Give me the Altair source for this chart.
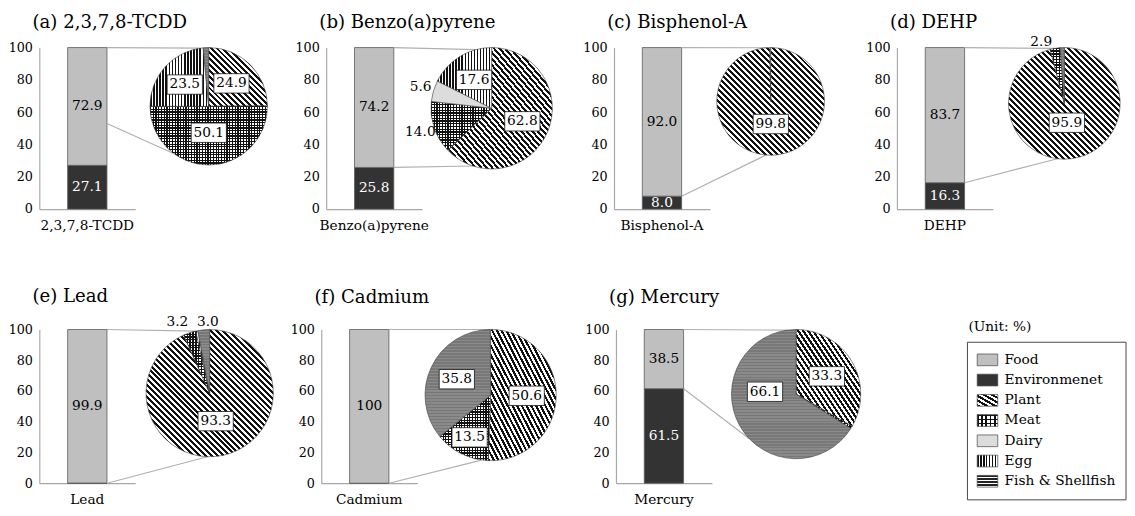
import math
import altair as alt
import pandas as pd

FONT = "DejaVu Serif"

# ---------------- data ----------------
panel_titles = ["(a) 2,3,7,8-TCDD", "(b) Benzo(a)pyrene", "(c) Bisphenol-A", "(d) DEHP",
                "(e) Lead", "(f) Cadmium", "(g) Mercury"]
substances = ["2,3,7,8-TCDD", "Benzo(a)pyrene", "Bisphenol-A", "DEHP", "Lead", "Cadmium", "Mercury"]
food = [72.9, 74.2, 92.0, 83.7, 99.9, 100.0, 38.5]
environment = [27.1, 25.8, 8.0, 16.3, 0.1, 0.0, 61.5]
food_labels = ["72.9", "74.2", "92.0", "83.7", "99.9", "100", "38.5"]
env_labels = ["27.1", "25.8", "8.0", "16.3", "", "", "61.5"]
link_low = [53.0, 25.8, 8.0, 16.3, 0.0, 0.0, 61.5]

food_groups = ["Plant", "Meat", "Dairy", "Egg", "Fish & Shellfish"]
plant = [24.9, 62.8, 99.8, 95.9, 93.3, 50.6, 33.3]
meat = [50.1, 14.0, 0.0, 2.9, 3.2, 13.5, 0.6]
dairy = [0.0, 5.6, 0.0, 0.0, 0.0, 0.0, 0.0]
egg = [23.5, 17.6, 0.2, 0.0, 0.5, 0.0, 0.0]
fish = [1.5, 0.0, 0.0, 1.2, 3.0, 35.8, 66.1]
pie_labels = [
    ["24.9", "50.1", "", "23.5", ""],
    ["62.8", "14.0", "5.6", "17.6", ""],
    ["99.8", "", "", "", ""],
    ["95.9", "2.9", "", "", ""],
    ["93.3", "3.2", "", "", "3.0"],
    ["50.6", "13.5", "", "", "35.8"],
    ["33.3", "", "", "", "66.1"],
]
legend_items = ["Food", "Environmenet", "Plant", "Meat", "Dairy", "Egg", "Fish & Shellfish"]
unit_note = "(Unit: %)"

# ---------------- style / layout ----------------
FOOD_COLOR = "#bfbfbf"
ENV_COLOR = "#333333"
LINK_COLOR = "#b0b0b0"
AXIS_COLOR = "#a8a8a8"
TITLE_SIZE = 18.5
VAL_SIZE = 14
YLAB_SIZE = 13
XLAB_SIZE = 14
LEG_SIZE = 14

PANELS = [
    dict(w=272.5, h=165, cx=173, r=60, up=-8, lo=216, toff=10),
    dict(w=273.5, h=165, cx=169, r=62, up=-15, lo=198, toff=10),
    dict(w=269, h=165, cx=160, r=55, up=-5, lo=185, toff=10),
    dict(w=225, h=165, cx=171, r=57, up=-10, lo=187, toff=3.5),
    dict(w=268, h=157, cx=174, r=65, up=-13, lo=182, toff=10.2),
    dict(w=281, h=157, cx=173, r=67, up=0, lo=188, toff=18),
    dict(w=338, h=157, cx=184, r=66, up=-8, lo=226, toff=18),
]
OUTSIDE = {(1, "Meat"): 1.24, (1, "Dairy"): 1.22, (3, "Meat"): 1.12,
           (4, "Meat"): 1.12, (4, "Fish & Shellfish"): 1.12}
LABEL_RF = {(0, "Meat"): 0.45, (2, "Plant"): 0.42, (3, "Plant"): 0.35, (4, "Plant"): 0.45,
            (5, "Meat"): 0.72, (5, "Fish & Shellfish"): 0.57}
NUDGE = {(3, "Meat"): (-13, 0), (4, "Meat"): (-10, -3), (4, "Fish & Shellfish"): (5, 0),
         (6, "Fish & Shellfish"): (0, -20)}
BOX_SHAPE = "M-1,-0.55H1V0.55H-1Z"
SWATCH_SHAPE = "M-1,-0.57H1V0.57H-1Z"


def stripes(n, x1, y1, x2, y2, c_line, c_bg, frac):
    n = max(1, int(round(n)))
    stops = []
    for i in range(n):
        a = i / n
        b = (i + frac) / n
        c = (i + 1) / n
        stops += [dict(offset=a, color=c_line), dict(offset=b, color=c_line),
                  dict(offset=b, color=c_bg), dict(offset=c, color=c_bg)]
    return dict(gradient="linear", x1=x1, y1=y1, x2=x2, y2=y2, stops=stops)


def group_fills(group, w, h, legend=False):
    w = max(w, 1.0)
    h = max(h, 1.0)
    if group == "Food":
        return [FOOD_COLOR]
    if group == "Environmenet":
        return [ENV_COLOR]
    if group == "Plant":
        n = 2 * w * h / (math.hypot(w, h) * 4.3)
        return [stripes(n, 0, 1, 1, 0, "#111111", "#ffffff", 0.5)]
    if group == "Meat":
        p = 4.2 if legend else 2.8
        return [stripes(w / p, 0, 0, 1, 0, "#111111", "#ffffff", 0.45),
                stripes(h / p, 0, 0, 0, 1, "#111111", "rgba(0,0,0,0)", 0.45)]
    if group == "Dairy":
        return ["#dcdcdc"]
    if group == "Egg":
        return [stripes(w / 3.1, 0, 0, 1, 0, "#111111", "#ffffff", 0.5)]
    if group == "Fish & Shellfish":
        if legend:
            return [stripes(h / 3.0, 0, 0, 0, 1, "#222222", "#ffffff", 0.5)]
        return [stripes(h / 3.0, 0, 0, 0, 1, "#787878", "#8a8a8a", 0.5)]
    return ["#999999"]


def arc_bbox(r, a0, a1):
    pts = [(0.0, 0.0)]
    angs = [a0, a1] + [k * 90 for k in range(0, 5) if a0 < k * 90 < a1]
    for a in angs:
        t = math.radians(a)
        pts.append((r * math.sin(t), -r * math.cos(t)))
    xs = [p[0] for p in pts]
    ys = [p[1] for p in pts]
    return max(xs) - min(xs), max(ys) - min(ys)


theta_scale = alt.Scale(domain=[0, 100], range=[0, 2 * math.pi])


def y_scale():
    return alt.Scale(domain=[0, 100], nice=False)


def x_scale():
    return alt.Scale(range=[0, 98], paddingInner=0, paddingOuter=0.72)


def make_panel(i):
    L = PANELS[i]
    cx, r = L["cx"], L["r"]
    name = substances[i]

    bars = pd.DataFrame([
        dict(name=name, seg="Environment", y0=0.0, y1=environment[i],
             mid=environment[i] / 2, label=env_labels[i]),
        dict(name=name, seg="Food", y0=environment[i], y1=environment[i] + food[i],
             mid=environment[i] + food[i] / 2, label=food_labels[i]),
    ])

    yaxis = alt.Axis(values=[0, 20, 40, 60, 80, 100], ticks=False, grid=False,
                     domainColor=AXIS_COLOR, domainWidth=1.2, labelFont=FONT,
                     labelFontSize=YLAB_SIZE, labelColor="black", labelPadding=7, title=None)
    xaxis = alt.Axis(ticks=False, grid=False, domainColor=AXIS_COLOR, domainWidth=1.2,
                     labelFont=FONT, labelFontSize=XLAB_SIZE, labelColor="black",
                     labelPadding=10, labelAngle=0, title=None)

    layers = []
    layers.append(
        alt.Chart(bars).mark_bar(stroke="#5a5a5a", strokeWidth=0.8).encode(
            x=alt.X("name:N", scale=x_scale(), axis=xaxis),
            y=alt.Y("y0:Q", scale=y_scale(), axis=yaxis),
            y2="y1:Q",
            fill=alt.Fill("seg:N", scale=alt.Scale(domain=["Food", "Environment"],
                                                   range=[FOOD_COLOR, ENV_COLOR]), legend=None),
        )
    )
    layers.append(
        alt.Chart(bars[bars.label != ""]).mark_text(font=FONT, fontSize=VAL_SIZE, baseline="middle").encode(
            x=alt.X("name:N", scale=x_scale(), axis=None),
            y=alt.Y("mid:Q", scale=y_scale(), axis=None),
            text="label:N",
            color=alt.Color("seg:N", scale=alt.Scale(domain=["Food", "Environment"],
                                                     range=["black", "white"]), legend=None),
        )
    )

    links = pd.DataFrame([dict(name=name, top=100.0, low=link_low[i])])
    up, lo = math.radians(L["up"]), math.radians(L["lo"])
    layers.append(
        alt.Chart(links).mark_rule(color=LINK_COLOR, strokeWidth=1.2).encode(
            x=alt.X("name:N", bandPosition=1, scale=x_scale(), axis=None),
            y=alt.Y("top:Q", scale=y_scale(), axis=None),
            x2=alt.value(cx + r * math.sin(up)),
            y2=alt.value(r - r * math.cos(up)),
        )
    )
    layers.append(
        alt.Chart(links).mark_rule(color=LINK_COLOR, strokeWidth=1.2).encode(
            x=alt.X("name:N", bandPosition=1, scale=x_scale(), axis=None),
            y=alt.Y("low:Q", scale=y_scale(), axis=None),
            x2=alt.value(cx + r * math.sin(lo)),
            y2=alt.value(r - r * math.cos(lo)),
        )
    )

    vals = [plant[i], meat[i], dairy[i], egg[i], fish[i]]
    rows = []
    start = 0.0
    for g, v, lab in zip(food_groups, vals, pie_labels[i]):
        rows.append(dict(group=g, value=v, t0=start, t1=start + v, mid=start + v / 2, label=lab))
        start += v
    pie = pd.DataFrame(rows)

    for _, row in pie.iterrows():
        if row["value"] <= 0:
            continue
        a0 = row["t0"] * 3.6
        a1 = row["t1"] * 3.6
        bw, bh = arc_bbox(r, a0, a1)
        fills = group_fills(row["group"], bw, bh)
        sub = pie[pie.group == row["group"]]
        for k, f in enumerate(fills):
            kw = dict(fill=f, radius=r)
            if k == len(fills) - 1:
                kw.update(stroke="#3c3c3c", strokeWidth=0.6)
            else:
                kw.update(strokeWidth=0)
            layers.append(
                alt.Chart(sub).mark_arc(**kw).encode(
                    theta=alt.Theta("t0:Q", scale=theta_scale),
                    theta2="t1:Q",
                    x=alt.value(cx),
                    y=alt.value(r),
                )
            )

    lab_rows = []
    for _, row in pie.iterrows():
        if row["label"] == "":
            continue
        key = (i, row["group"])
        outside = key in OUTSIDE
        rf = OUTSIDE.get(key, LABEL_RF.get(key, 0.55))
        t = math.radians(row["mid"] * 3.6)
        dx, dy = NUDGE.get(key, (0, 0))
        lab_rows.append(dict(label=row["label"], boxed=not outside,
                             lx=cx + rf * r * math.sin(t) + dx,
                             ly=r - rf * r * math.cos(t) + dy))
    labs = pd.DataFrame(lab_rows)
    layers.append(
        alt.Chart(labs[labs.boxed]).mark_point(shape=BOX_SHAPE, size=36 * 36, filled=True,
                                               fill="white", stroke="#111111",
                                               strokeWidth=0.8, opacity=1).encode(
            x=alt.X("lx:Q", scale=None, axis=None),
            y=alt.Y("ly:Q", scale=None, axis=None),
        )
    )
    layers.append(
        alt.Chart(labs).mark_text(font=FONT, fontSize=VAL_SIZE, baseline="middle", color="black").encode(
            x=alt.X("lx:Q", scale=None, axis=None),
            y=alt.Y("ly:Q", scale=None, axis=None),
            text="label:N",
        )
    )

    return alt.layer(*layers).resolve_scale(x="independent", y="independent").properties(
        width=L["w"], height=L["h"],
        title=alt.TitleParams(panel_titles[i], anchor="start", frame="group", font=FONT,
                              fontSize=TITLE_SIZE, fontWeight="normal", color="black",
                              offset=L["toff"], dx=-7),
    )


def make_legend():
    df = pd.DataFrame({"item": legend_items})
    yleg = alt.Scale(type="point", domain=legend_items, range=[31, 155], padding=0)
    layers = [
        alt.Chart(pd.DataFrame({"note": [unit_note]})).mark_rect(
            fill="white", stroke="#444444", strokeWidth=1).encode(
            x=alt.value(1), x2=alt.value(163), y=alt.value(13), y2=alt.value(174)),
        alt.Chart(pd.DataFrame({"note": [unit_note]})).mark_text(
            font=FONT, fontSize=LEG_SIZE, align="left", baseline="middle", color="black").encode(
            x=alt.value(2), y=alt.value(-2), text="note:N"),
    ]
    for item in legend_items:
        fills = group_fills(item, 21, 12, legend=True)
        for k, f in enumerate(fills):
            kw = dict(shape=SWATCH_SHAPE, size=441, filled=True, fill=f, opacity=1)
            if k == len(fills) - 1:
                kw.update(stroke="#444444", strokeWidth=0.7)
            else:
                kw.update(strokeWidth=0)
            layers.append(
                alt.Chart(df[df.item == item]).mark_point(**kw).encode(
                    x=alt.value(21.5),
                    y=alt.Y("item:N", scale=yleg, axis=None),
                )
            )
    layers.append(
        alt.Chart(df).mark_text(font=FONT, fontSize=LEG_SIZE, align="left", baseline="middle",
                                color="black").encode(
            x=alt.value(39),
            y=alt.Y("item:N", scale=yleg, axis=None),
            text="item:N",
        )
    )
    return alt.layer(*layers).properties(width=163, height=175)


panels = [make_panel(i) for i in range(7)]
top = alt.hconcat(*panels[:4], spacing=20, bounds="flush")
bottom = alt.hconcat(*panels[4:], make_legend(), spacing=20, bounds="flush")
chart = alt.vconcat(top, bottom, spacing=55).configure_view(stroke=None).properties(
    padding={"left": 0, "top": 0, "right": 0, "bottom": 0}
)

chart.save("out.html", embed_options={"renderer": "svg", "actions": False})
